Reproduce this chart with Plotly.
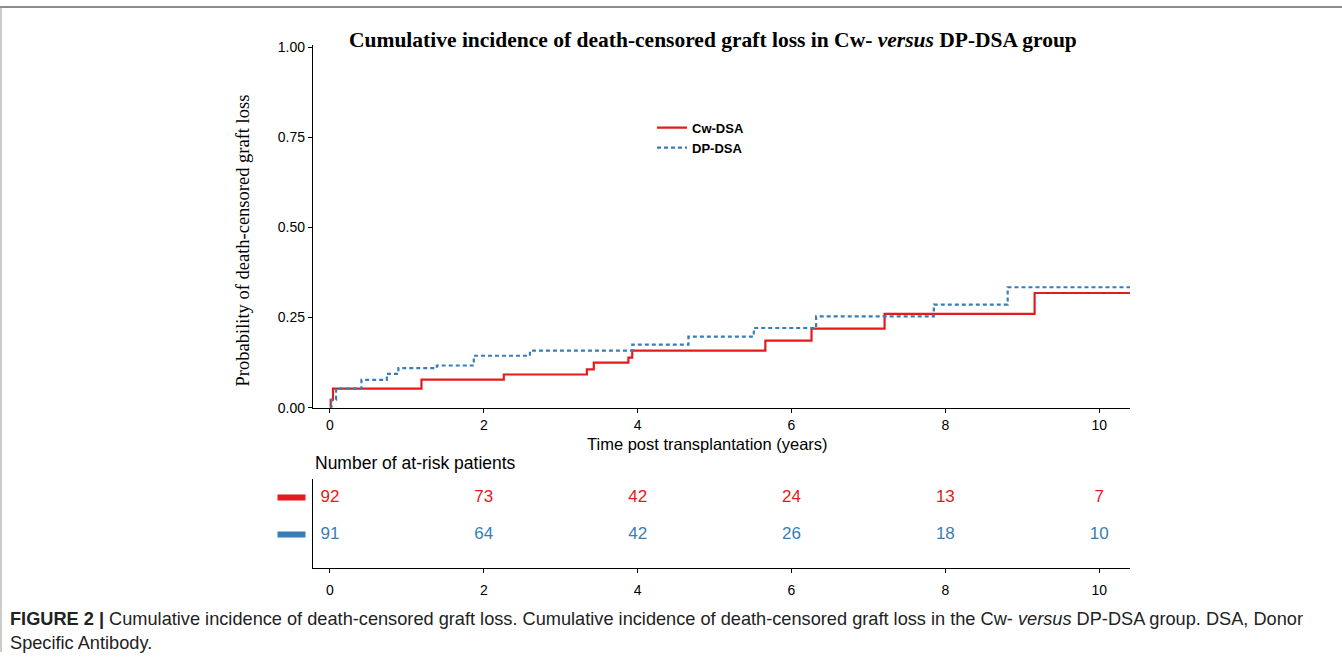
import plotly.graph_objects as go

# ---------------- data ----------------
cw_time = [0, 0.01, 0.04, 1.19, 2.26, 3.34, 3.43, 3.88, 3.93, 5.66, 6.26, 7.21, 9.16, 10.4]
cw_prob = [0, 0.022, 0.053, 0.078, 0.092, 0.106, 0.125, 0.139, 0.158, 0.186, 0.219, 0.260, 0.318, 0.318]

dp_time = [0, 0.02, 0.08, 0.41, 0.74, 0.89, 1.39, 1.87, 2.60, 3.93, 4.66, 5.51, 6.32, 7.85, 8.81, 10.4]
dp_prob = [0, 0.022, 0.053, 0.077, 0.094, 0.110, 0.117, 0.144, 0.158, 0.175, 0.197, 0.221, 0.253, 0.286, 0.334, 0.334]

risk_times = [0, 2, 4, 6, 8, 10]
cw_risk = [92, 73, 42, 24, 13, 7]
dp_risk = [91, 64, 42, 26, 18, 10]

series_names = ["Cw-DSA", "DP-DSA"]
RED = "#E41A1C"
BLUE = "#377EB8"

W, H = 1342, 660
def px_x(p):
    return p / W
def px_y(p):
    return 1 - p / H

SANS = "Liberation Sans, Arial, sans-serif"
SERIF = "Liberation Serif, Times New Roman, serif"

fig = go.Figure()

fig.add_trace(go.Scatter(
    x=cw_time, y=cw_prob, mode="lines", line=dict(color=RED, width=2.2, shape="hv"),
    name="<b>" + series_names[0] + "</b>", xaxis="x", yaxis="y"))
fig.add_trace(go.Scatter(
    x=dp_time, y=dp_prob, mode="lines", line=dict(color=BLUE, width=2.2, shape="hv", dash="4px,3px"),
    name="<b>" + series_names[1] + "</b>", xaxis="x", yaxis="y"))

# risk table
fig.add_trace(go.Scatter(
    x=risk_times, y=[2] * len(risk_times), mode="text", text=[str(v) for v in cw_risk],
    textfont=dict(color=RED, size=17, family=SANS), showlegend=False, xaxis="x2", yaxis="y2",
    cliponaxis=False))
fig.add_trace(go.Scatter(
    x=risk_times, y=[1] * len(risk_times), mode="text", text=[str(v) for v in dp_risk],
    textfont=dict(color=BLUE, size=17, family=SANS), showlegend=False, xaxis="x2", yaxis="y2",
    cliponaxis=False))

x_dom = [px_x(313), px_x(1130)]
x_range = [-0.22, 10.4]

axis_common = dict(showgrid=False, zeroline=False, showline=True, linecolor="black", linewidth=1.3,
                   ticks="outside", ticklen=4, tickwidth=1.1, tickcolor="black")

fig.update_layout(
    width=W, height=H,
    margin=dict(l=0, r=0, t=0, b=0),
    paper_bgcolor="white", plot_bgcolor="white",
    showlegend=True,
    legend=dict(x=px_x(652), y=px_y(109), xanchor="left", yanchor="top",
                font=dict(family=SANS, size=13, color="black"), bgcolor="rgba(0,0,0,0)",
                tracegroupgap=2),
    xaxis=dict(domain=x_dom, range=x_range, tickvals=[0, 2, 4, 6, 8, 10],
               tickfont=dict(family=SANS, size=14, color="black"),
               anchor="y", **axis_common),
    yaxis=dict(domain=[px_y(410.4), px_y(40)], range=[0, 1.0054],
               tickvals=[0, 0.25, 0.5, 0.75, 1.0], ticktext=["0.00", "0.25", "0.50", "0.75", "1.00"],
               tickfont=dict(family=SANS, size=14, color="black"),
               anchor="x", **axis_common),
    xaxis2=dict(domain=x_dom, range=x_range, tickvals=[0, 2, 4, 6, 8, 10],
                tickfont=dict(family=SANS, size=14, color="black"), ticklabelstandoff=5,
                anchor="y2", **axis_common),
    yaxis2=dict(domain=[px_y(574.2), px_y(483.1)], range=[0.106, 2.516],
                showgrid=False, zeroline=False, showline=True, linecolor="black", linewidth=1.3,
                showticklabels=False, ticks="", anchor="x2"),
)

annotations = [
    dict(text="<b>Cumulative incidence of death-censored graft loss in Cw- <i>versus</i> DP-DSA group</b>",
         x=px_x(713), y=px_y(35), xref="paper", yref="paper", showarrow=False,
         font=dict(family=SERIF, size=21.5, color="black"), xanchor="center", yanchor="middle"),
    dict(text="Probability of death-censored graft loss", x=px_x(243), y=px_y(239.5), xref="paper",
         yref="paper", showarrow=False, textangle=-90,
         font=dict(family=SERIF, size=18.5, color="black"), xanchor="center", yanchor="middle"),
    dict(text="Time post transplantation (years)", x=px_x(707), y=px_y(447), xref="paper", yref="paper",
         showarrow=False, font=dict(family=SANS, size=16.5, color="black"), xanchor="center", yanchor="middle"),
    dict(text="Number of at-risk patients", x=px_x(313), y=px_y(467), xref="paper", yref="paper",
         showarrow=False, font=dict(family=SANS, size=17.5, color="black"), xanchor="left", yanchor="middle"),
    dict(text="<b>FIGURE 2 |</b> Cumulative incidence of death-censored graft loss. Cumulative incidence of "
              "death-censored graft loss in the Cw- <i>versus</i> DP-DSA group. DSA, Donor",
         x=px_x(8), y=px_y(626), xref="paper", yref="paper", showarrow=False,
         font=dict(family=SANS, size=18.2, color="#222"), xanchor="left", yanchor="middle"),
    dict(text="Specific Antibody.", x=px_x(8), y=px_y(651), xref="paper", yref="paper", showarrow=False,
         font=dict(family=SANS, size=18.2, color="#222"), xanchor="left", yanchor="middle"),
]
# risk-table row keys (coloured bars left of the table, tied to the table's rows)
for row, col in [(2, RED), (1, BLUE)]:
    annotations.append(dict(text=" ", x=px_x(291.5), y=row, xref="paper", yref="y2", showarrow=False,
                            width=27, height=5, bgcolor=col, borderpad=0, font=dict(size=2),
                            xanchor="center", yanchor="middle"))
fig.update_layout(annotations=annotations)

# frame lines of the figure box (top and left)
fig.update_layout(shapes=[
    dict(type="line", xref="paper", yref="paper", x0=0, x1=1, y0=px_y(1), y1=px_y(1),
         line=dict(color="#666", width=1.5)),
    dict(type="line", xref="paper", yref="paper", x0=px_x(1), x1=px_x(1), y0=0, y1=px_y(1),
         line=dict(color="#999", width=1)),
])

fig.write_html("out.html", config={"displayModeBar": False},
               post_script="document.body.style.margin='0px';")
